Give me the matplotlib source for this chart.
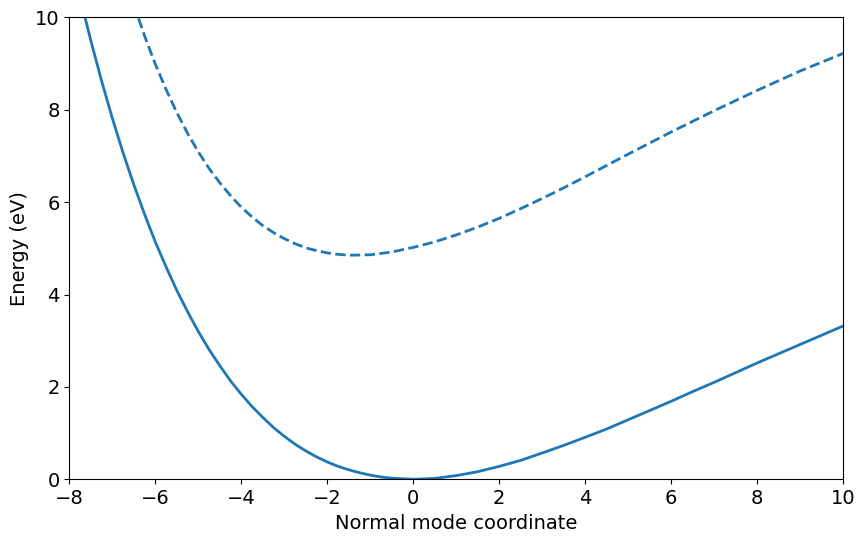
import matplotlib
matplotlib.use("Agg")
import matplotlib.pyplot as plt

# Ground-state curve (solid)
ground_x = [-7.75, -7.5, -7.25, -7.0, -6.75, -6.5, -6.25, -6.0, -5.75, -5.5, -5.25,
            -5.0, -4.75, -4.5, -4.25, -4.0, -3.75, -3.5, -3.25, -3.0, -2.75, -2.5,
            -2.25, -2.0, -1.75, -1.5, -1.25, -1.0, -0.75, -0.5, 0.0,
            0.5, 1.0, 1.5, 2.0, 2.5, 3.0, 3.5, 4.0, 4.5, 5.0, 5.5, 6.0, 6.5,
            7.0, 7.5, 8.0, 8.5, 9.0, 9.5, 10.0]
ground_y = [10.43, 9.50, 8.63, 7.82, 7.07, 6.38, 5.74, 5.14, 4.60, 4.09, 3.63,
            3.20, 2.81, 2.46, 2.13, 1.84, 1.575, 1.34, 1.12, 0.93, 0.76, 0.614,
            0.485, 0.375, 0.28, 0.205, 0.142, 0.09, 0.05, 0.024, 0.0,
            0.02, 0.08, 0.165, 0.28, 0.41, 0.57, 0.735, 0.91, 1.09, 1.29, 1.49, 1.69, 1.90,
            2.10, 2.31, 2.52, 2.72, 2.92, 3.12, 3.32]

# Excited-state curve (dashed)
excited_x = [-6.5, -6.25, -6.0, -5.75, -5.5, -5.25, -5.0, -4.75, -4.5, -4.25,
             -4.0, -3.75, -3.5, -3.25, -3.0, -2.75, -2.5, -2.25, -2.0, -1.75,
             -1.5, -1.0, -0.5, 0.0, 0.5, 1.0,
             1.5, 2.0, 2.5, 3.0, 3.5, 4.0, 5.0, 6.0, 7.0, 8.0, 9.0, 10.0]
excited_y = [10.28, 9.60, 8.99, 8.44, 7.94, 7.49, 7.09, 6.73, 6.42, 6.14,
             5.89, 5.68, 5.49, 5.34, 5.21, 5.10, 5.01, 4.95, 4.90, 4.87,
             4.85, 4.86, 4.92, 5.02, 5.14, 5.29,
             5.46, 5.65, 5.86, 6.08, 6.31, 6.55, 7.04, 7.52, 7.98, 8.42, 8.84, 9.22]

color = "#1f77b4"

fig = plt.figure(figsize=(8.66, 5.42), dpi=100)
ax = fig.add_axes([0.080, 0.1157, 0.8938, 0.8523])

ax.plot(ground_x, ground_y, color=color, lw=2.0)
ax.plot(excited_x, excited_y, color=color, lw=2.0, linestyle=(0, (3.7, 1.6)))

ax.set_xlim(-8, 10)
ax.set_ylim(0, 10)
ax.set_xticks([-8, -6, -4, -2, 0, 2, 4, 6, 8, 10])
ax.set_yticks([0, 2, 4, 6, 8, 10])
ax.tick_params(labelsize=14)
ax.set_xlabel("Normal mode coordinate", fontsize=14)
ax.set_ylabel("Energy (eV)", fontsize=14)

fig.savefig("out.png", dpi=100)
